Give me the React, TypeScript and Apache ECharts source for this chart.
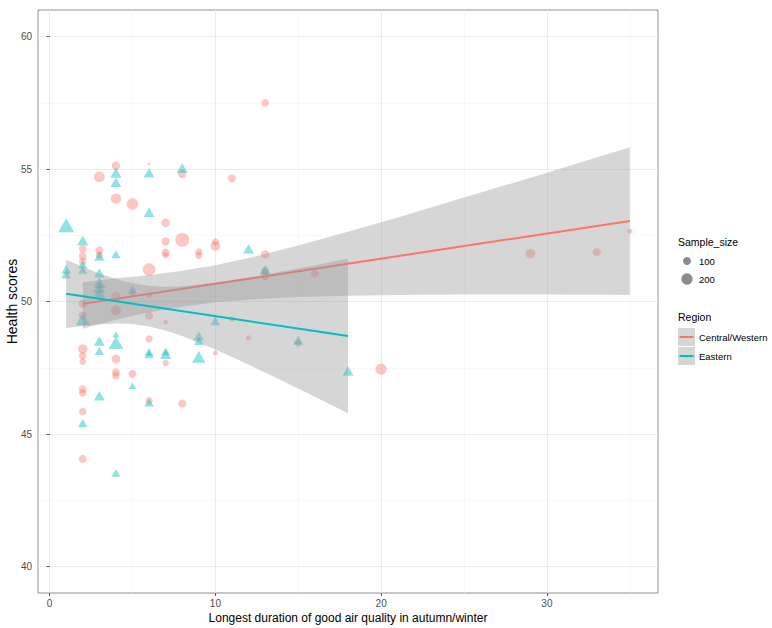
import { useEffect, useRef } from "react";
import * as echarts from "echarts";

// ---- Data ----
// Central/Western points (circles)
const centralX = [13, 3, 4, 6, 4, 5, 7, 7, 7, 7, 8, 8, 2, 2, 2, 3, 3, 6, 4, 4, 2, 2, 6, 6, 7, 6, 2, 2, 2, 4, 4, 4, 5, 7, 2, 2, 2, 6, 8, 2, 11, 9, 9, 10, 10, 13, 13, 13, 16, 11, 12, 10, 15, 20, 29, 33, 35, 5];
const centralY = [57.5, 54.7, 55.12, 55.19, 53.88, 53.68, 52.97, 52.27, 51.85, 51.74, 52.33, 54.81, 51.98, 51.72, 51.52, 51.93, 51.75, 51.2, 50.16, 49.66, 49.91, 49.47, 50.23, 49.47, 49.22, 48.59, 48.21, 47.95, 47.73, 47.83, 47.33, 47.2, 47.27, 47.68, 46.69, 46.55, 45.85, 46.26, 46.15, 44.06, 54.65, 51.87, 51.74, 52.25, 52.09, 51.78, 51.15, 50.96, 51.05, 49.34, 48.63, 48.06, 48.42, 47.45, 51.81, 51.86, 52.65, 50.3];
const centralN = [90, 180, 110, 10, 170, 210, 110, 110, 100, 60, 300, 110, 90, 100, 90, 100, 80, 250, 150, 150, 110, 100, 50, 110, 30, 80, 140, 90, 70, 120, 100, 90, 100, 60, 100, 90, 90, 80, 100, 100, 100, 80, 80, 80, 150, 110, 100, 100, 90, 50, 40, 40, 70, 200, 150, 110, 40, 60];

// Eastern points (triangles)
const easternX = [1, 1, 1, 2, 2, 2, 2, 2, 3, 3, 3, 3, 3, 3, 3, 3, 4, 4, 4, 4, 4, 4, 5, 5, 6, 6, 6, 6, 6, 7, 7, 8, 9, 9, 9, 10, 12, 13, 15, 18];
const easternY = [52.88, 51.21, 51.03, 52.3, 51.4, 51.2, 49.33, 45.41, 51.71, 51.08, 50.71, 50.52, 50.33, 48.51, 48.14, 46.44, 54.86, 54.5, 51.79, 48.76, 48.45, 43.53, 50.46, 46.82, 54.86, 53.37, 48.1, 48.01, 46.19, 48.12, 48.01, 55.04, 48.7, 48.51, 47.91, 49.27, 51.99, 51.2, 48.54, 47.38];
const easternN = [260, 100, 100, 130, 90, 90, 200, 90, 110, 110, 150, 150, 130, 120, 90, 120, 130, 120, 90, 50, 220, 80, 90, 60, 120, 120, 80, 90, 90, 80, 120, 120, 110, 90, 180, 100, 120, 120, 110, 120];

// Fitted lines (end points) and confidence bands
const centralLineX = [2, 35];
const centralLineY = [49.91, 53.04];
const easternLineX = [1, 18];
const easternLineY = [50.29, 48.7];

const centralBandX = [2, 4, 6, 8, 10, 12, 15, 18, 21, 25, 30, 35];
const centralBandLo = [48.97, 49.31, 49.59, 49.8, 49.97, 50.07, 50.17, 50.22, 50.25, 50.26, 50.26, 50.25];
const centralBandHi = [50.73, 50.88, 50.99, 51.16, 51.37, 51.64, 52.11, 52.63, 53.17, 53.92, 54.86, 55.82];

const easternBandX = [1, 2, 3, 4, 5, 6, 7, 8, 10, 12, 14, 16, 18];
const easternBandLo = [49.0, 49.08, 49.14, 49.17, 49.15, 49.06, 48.91, 48.7, 48.19, 47.62, 47.02, 46.41, 45.78];
const easternBandHi = [51.58, 51.31, 51.06, 50.85, 50.69, 50.59, 50.55, 50.58, 50.71, 50.9, 51.13, 51.37, 51.62];

const xTicks = [0, 10, 20, 30];
const yTicks = [40, 45, 50, 55, 60];
const sizeLegend = [100, 200];
const regionNames = ["Central/Western", "Eastern"];

const FONT = "'Liberation Sans', Arial, Helvetica, sans-serif";
const RED = "#F8766D";
const TEAL = "#00BFC4";
const BAND = "rgba(153,153,153,0.4)";

const diam = (n: number) => 0.8 * Math.sqrt(n);

function bandSeries(bx: number[], lo: number[], hi: number[], z: number) {
  return {
    type: "custom",
    z,
    silent: true,
    data: bx.map((x, i) => [x, lo[i], hi[i]]),
    encode: { x: 0, y: [1, 2] },
    renderItem: (params: any, api: any) => {
      if (params.dataIndex !== 0) return null;
      const pts: number[][] = [];
      for (let i = 0; i < bx.length; i++) pts.push(api.coord([bx[i], hi[i]]));
      for (let i = bx.length - 1; i >= 0; i--) pts.push(api.coord([bx[i], lo[i]]));
      return { type: "polygon", shape: { points: pts }, style: { fill: BAND, stroke: "none" } };
    },
  };
}

export default function App() {
  const ref = useRef<HTMLDivElement>(null);
  useEffect(() => {
    document.body.style.margin = "0";
    const chart = echarts.init(ref.current!, null, { renderer: "svg" });

    const legendX = 678;
    const legendGraphics: any[] = [
      {
        type: "text",
        left: legendX,
        top: 236,
        style: { text: "Sample_size", fill: "#000", font: `10.5px ${FONT}` },
      },
    ];
    sizeLegend.forEach((n, i) => {
      const cy = 261 + i * 18;
      legendGraphics.push({
        type: "circle",
        shape: { cx: 687, cy, r: diam(n) / 2 },
        style: { fill: "rgba(0,0,0,0.45)" },
      });
      legendGraphics.push({
        type: "text",
        x: 699,
        y: cy,
        style: { text: String(n), fill: "#000", font: `9.5px ${FONT}`, verticalAlign: "middle" },
      });
    });
    legendGraphics.push({
      type: "text",
      left: legendX,
      top: 311,
      style: { text: "Region", fill: "#000", font: `10.5px ${FONT}` },
    });
    [RED, TEAL].forEach((c, i) => {
      const cy = 337 + i * 19;
      legendGraphics.push({
        type: "rect",
        shape: { x: 678, y: cy - 9, width: 17, height: 18 },
        style: { fill: BAND },
      });
      legendGraphics.push({
        type: "line",
        shape: { x1: 679.5, y1: cy, x2: 693.5, y2: cy },
        style: { stroke: c, lineWidth: 2 },
      });
      legendGraphics.push({
        type: "text",
        x: 699,
        y: cy,
        style: { text: regionNames[i], fill: "#000", font: `9.5px ${FONT}`, verticalAlign: "middle" },
      });
    });

    const option: any = {
      animation: false,
      backgroundColor: "#fff",
      textStyle: { fontFamily: FONT },
      grid: {
        left: 38,
        right: 114,
        top: 10,
        bottom: 35,
        containLabel: false,
        outerBoundsMode: "none",
        show: true,
        borderColor: "#8f8f8f",
        borderWidth: 1,
        backgroundColor: "#fff",
      },
      xAxis: {
        type: "value",
        min: -0.7,
        max: 36.7,
        splitNumber: 4,
        name: "Longest duration of good air quality in autumn/winter",
        nameLocation: "middle",
        nameGap: 19,
        nameMoveOverlap: false,
        nameTextStyle: { color: "#000", fontSize: 12, fontFamily: FONT },
        axisLine: { show: false },
        axisTick: { show: true, length: 3, lineStyle: { color: "#555" }, customValues: xTicks },
        axisLabel: { color: "#4d4d4d", fontSize: 10, margin: 5, fontFamily: FONT, customValues: xTicks },
        splitLine: { show: true, lineStyle: { color: "#ebebeb", width: 1 } },
        minorTick: { show: false, splitNumber: 2 },
        minorSplitLine: { show: true, lineStyle: { color: "#f3f3f3", width: 0.6 } },
      },
      yAxis: {
        type: "value",
        min: 39,
        max: 61,
        splitNumber: 4,
        name: "Health scores",
        nameLocation: "middle",
        nameGap: 19,
        nameMoveOverlap: false,
        nameRotate: 90,
        nameTextStyle: { color: "#000", fontSize: 14, fontFamily: FONT },
        axisLine: { show: false },
        axisTick: { show: true, length: 3, lineStyle: { color: "#555" }, customValues: yTicks },
        axisLabel: { color: "#4d4d4d", fontSize: 10, margin: 6, fontFamily: FONT, customValues: yTicks },
        splitLine: { show: true, lineStyle: { color: "#ebebeb", width: 1 } },
        minorTick: { show: false, splitNumber: 2 },
        minorSplitLine: { show: true, lineStyle: { color: "#f3f3f3", width: 0.6 } },
      },
      graphic: legendGraphics,
      series: [
        {
          type: "scatter",
          name: "Central/Western",
          z: 2,
          symbol: "circle",
          data: centralX.map((x, i) => [x, centralY[i], centralN[i]]),
          symbolSize: (v: number[]) => diam(v[2]),
          itemStyle: { color: "rgba(248,118,109,0.5)" },
          emphasis: { disabled: true },
        },
        {
          type: "scatter",
          name: "Eastern",
          z: 2,
          symbol: "triangle",
          data: easternX.map((x, i) => [x, easternY[i], easternN[i]]),
          symbolSize: (v: number[]) => [diam(v[2]) * 1.25, diam(v[2]) * 1.08],
          itemStyle: { color: "rgba(0,191,196,0.55)" },
          emphasis: { disabled: true },
        },
        bandSeries(centralBandX, centralBandLo, centralBandHi, 3),
        {
          type: "line",
          z: 4,
          data: centralLineX.map((x, i) => [x, centralLineY[i]]),
          showSymbol: false,
          symbol: "none",
          lineStyle: { color: RED, width: 2 },
          silent: true,
        },
        bandSeries(easternBandX, easternBandLo, easternBandHi, 5),
        {
          type: "line",
          z: 6,
          data: easternLineX.map((x, i) => [x, easternLineY[i]]),
          showSymbol: false,
          symbol: "none",
          lineStyle: { color: TEAL, width: 2 },
          silent: true,
        },
      ],
    };
    chart.setOption(option);
    return () => chart.dispose();
  }, []);
  return <div ref={ref} style={{ width: 772, height: 628 }} />;
}
